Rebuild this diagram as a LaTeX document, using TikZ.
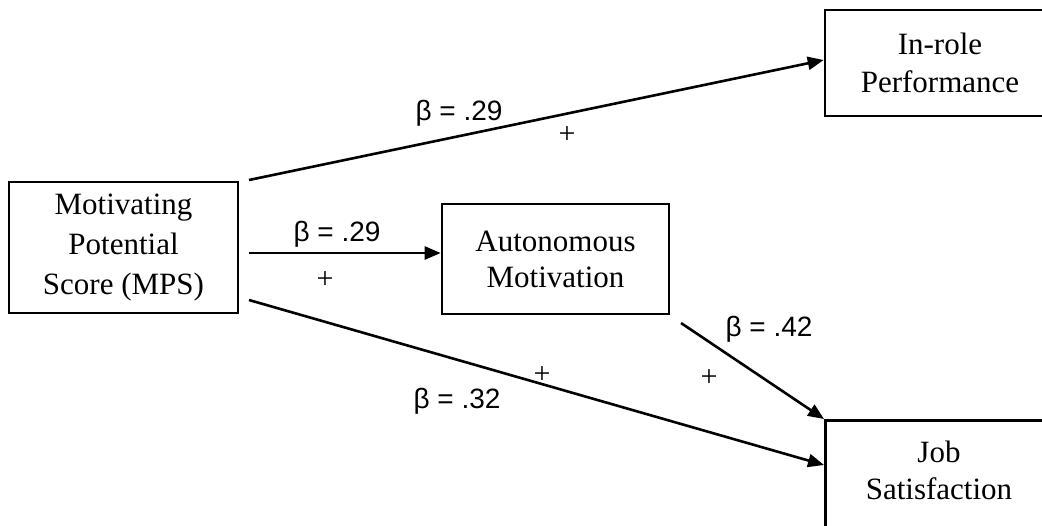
\documentclass[tikz,border=0pt]{standalone}
\usepackage{fontspec}
\setmainfont{Liberation Serif}
\newfontfamily\labfont{Liberation Sans}
\usetikzlibrary{arrows.meta}
\begin{document}
\begin{tikzpicture}[x=0.5pt,y=-0.5pt,
  box/.style={draw, line width=1.3pt, align=center, inner sep=0pt, font=\fontsize{15.5}{19}\selectfont},
  boxtext/.style={align=center, inner sep=0pt, font=\fontsize{15.5}{18.5}\selectfont},
  beta/.style={inner sep=0pt, font=\labfont\fontsize{14}{16}\selectfont},
  plus/.style={inner sep=0pt, font=\fontsize{15}{16}\selectfont},
  link/.style={line width=1.3pt, -{Triangle[length=8pt,width=6.5pt]}}]
\useasboundingbox (0,0) rectangle (1042,525);
\fill[white] (0,0) rectangle (1042,525);
\clip (0,0) rectangle (1042,525);
% boxes
\node[box, minimum width=114.5pt, minimum height=65.5pt, font=\fontsize{15.5}{20}\selectfont] (mps) at (123.5,247.5) {Motivating\\Potential\\Score (MPS)};
\node[box, minimum width=113.5pt, minimum height=55pt, font=\fontsize{15.5}{18}\selectfont] (aut) at (555.5,259) {Autonomous\\Motivation};
\node[box, minimum width=115pt, minimum height=53pt] (ir) at (940,63) {In-role\\Performance};
\node[draw, line width=1.3pt, inner sep=0pt, minimum width=115pt, minimum height=100pt, anchor=north west] (js) at (824,419) {};
\node[boxtext] (jst) at (939,470) {Job\\Satisfaction};
% start points
\coordinate (s1) at (249,180);
\coordinate (s2) at (249,253);
\coordinate (s3) at (249,300);
\coordinate (s4) at (681,323);
% connectors
\draw[link] (s1) -- ([yshift=1.5pt]ir.west);
\draw[link] (s2) -- ([yshift=3pt]aut.west);
\draw[link] (s3) -- ([yshift=-23pt]js.north west);
\draw[link] (s4) -- (js.north west);
% labels
\node[beta] (b1) at (459,113) {β = .29};
\node[plus] (p1) at (567,135) {+};
\node[beta] (b2) at (337,234) {β = .29};
\node[plus] (p2) at (325,280) {+};
\node[beta] (b3) at (769,329) {β = .42};
\node[plus] (p3) at (709,378) {+};
\node[beta] (b4) at (457,401) {β = .32};
\node[plus] (p4) at (542,375) {+};
\end{tikzpicture}
\end{document}
